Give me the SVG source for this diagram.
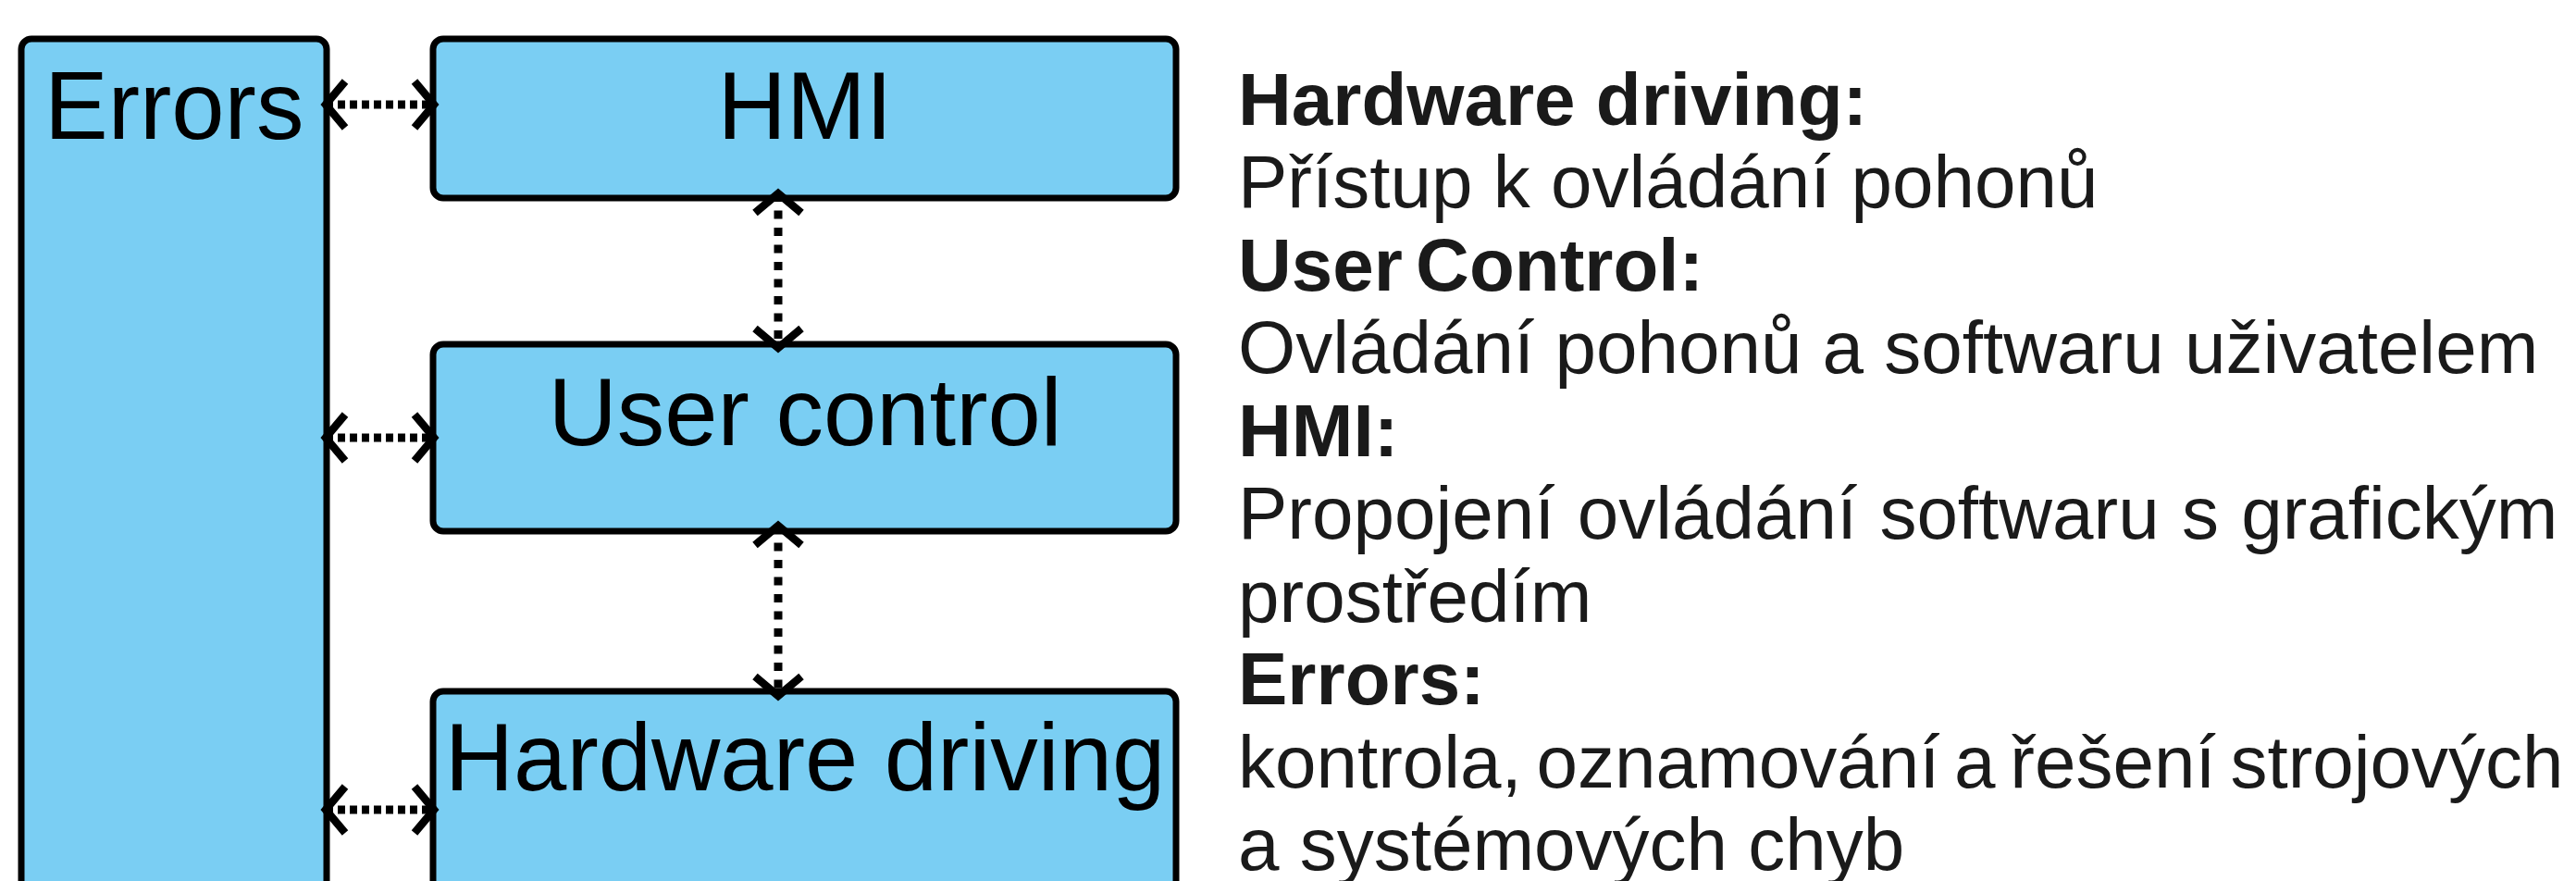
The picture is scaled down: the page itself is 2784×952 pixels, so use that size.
<svg xmlns="http://www.w3.org/2000/svg" width="2784" height="952" viewBox="0 0 2784 952">
  <style>
    .box { fill: #7acef3; stroke: #000; stroke-width: 7; }
    .lbl { font-family: "Liberation Sans", Arial, sans-serif; font-size: 103px; fill: #000; }
    .mid { text-anchor: middle; }
    .conn { fill: none; stroke: #000; stroke-width: 9; marker-start: url(#chev); marker-end: url(#chev); }
    .h { stroke-dasharray: 8 5; }
    .v { stroke-dasharray: 9 9.5; }
    .desc { font-family: "Liberation Sans", Arial, sans-serif; font-size: 80px; fill: #1a1a1a; }
    .b { font-weight: bold; }
  </style>
  <defs>
    <marker id="chev" markerUnits="userSpaceOnUse" orient="auto-start-reverse" overflow="visible" refX="0" refY="0" markerWidth="1" markerHeight="1">
      <path d="M -21 -25 L 0 0 L -21 25" fill="none" stroke="#000" stroke-width="8.5" stroke-linejoin="miter"/>
    </marker>
  </defs>
  <rect width="2784" height="952" fill="#fff"/>

  <g id="node-errors">
    <rect class="box" x="23" y="42" width="330" height="1000" rx="11"/>
    <text class="lbl" x="48" y="150">Errors</text>
  </g>
  <g id="node-hmi">
    <rect class="box" x="468" y="42" width="803" height="172" rx="11"/>
    <text class="lbl mid" x="870" y="150">HMI</text>
  </g>
  <g id="node-user-control">
    <rect class="box" x="468" y="372" width="803" height="202" rx="11"/>
    <text class="lbl mid" x="870" y="481">User control</text>
  </g>
  <g id="node-hardware-driving">
    <rect class="box" x="468" y="747" width="803" height="300" rx="11"/>
    <text class="lbl mid" x="870" y="854">Hardware driving</text>
  </g>

  <g id="connectors">
    <path class="conn h" d="M 352 113 L 469 113"/>
    <path class="conn h" d="M 352 473 L 469 473"/>
    <path class="conn h" d="M 352 875 L 469 875"/>
    <path class="conn v" d="M 841 209 L 841 376"/>
    <path class="conn v" d="M 841 568 L 841 752"/>
  </g>

  <g id="description">
    <text class="desc b" x="1338" y="134.5">Hardware driving:</text>
    <text class="desc" x="1338" y="224">Přístup k ovládání pohonů</text>
    <text class="desc b" x="1338" y="313.5" word-spacing="-8">User Control:</text>
    <text class="desc" x="1338" y="403">Ovládání pohonů a softwaru uživatelem</text>
    <text class="desc b" x="1338" y="492.5">HMI:</text>
    <text class="desc" x="1338" y="582" word-spacing="2">Propojení ovládání softwaru s grafickým</text>
    <text class="desc" x="1338" y="671.5">prostředím</text>
    <text class="desc b" x="1338" y="761">Errors:</text>
    <text class="desc" x="1338" y="850.5" word-spacing="-6.5">kontrola, oznamování a řešení strojových</text>
    <text class="desc" x="1338" y="940">a systémových chyb</text>
  </g>
</svg>
